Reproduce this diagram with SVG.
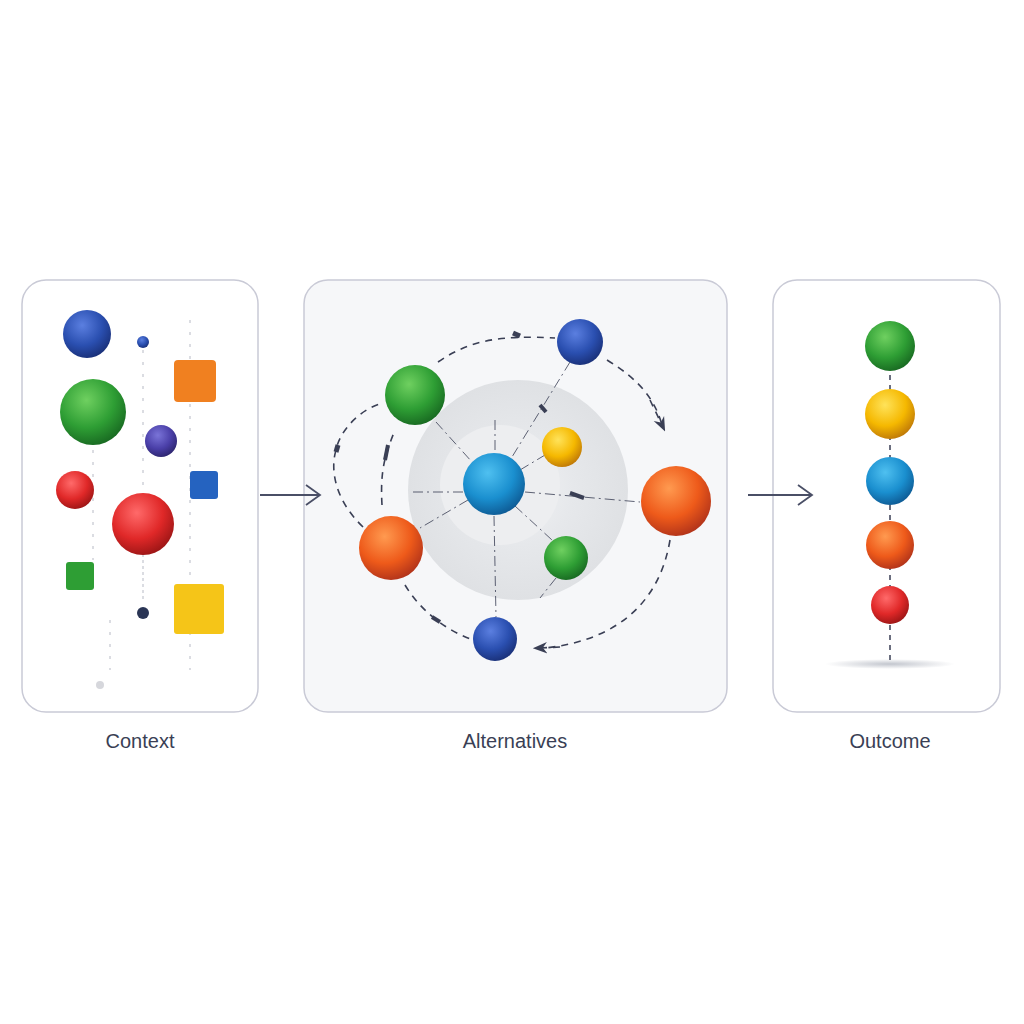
<svg xmlns="http://www.w3.org/2000/svg" width="1024" height="1024" viewBox="0 0 1024 1024">
<style>
.panel{stroke:#c9cad6;stroke-width:1.5}
.lbl{font-family:"Liberation Sans",Arial,sans-serif;font-size:20px;fill:#3a3f55;text-anchor:middle}
.d{fill:none;stroke:#3a3f55;stroke-width:1.6;stroke-dasharray:7 6}
.t{fill:none;stroke:#3a3f55;stroke-width:1;stroke-dasharray:10 4 2 4;opacity:.8}
.tl{fill:none;stroke:#9a9ead;stroke-width:1;stroke-dasharray:3 9;opacity:.7}
.ar{fill:none;stroke:#4a4f66;stroke-width:1.8}
</style>
<defs>
<radialGradient id="gB" cx="40%" cy="32%" r="70%"><stop offset="0" stop-color="#5b7fe0"/><stop offset=".6" stop-color="#2a4fb0"/><stop offset="1" stop-color="#1a317a"/></radialGradient>
<radialGradient id="gC" cx="40%" cy="32%" r="70%"><stop offset="0" stop-color="#4fc0f0"/><stop offset=".6" stop-color="#1a8fcf"/><stop offset="1" stop-color="#0e5c96"/></radialGradient>
<radialGradient id="gG" cx="40%" cy="32%" r="70%"><stop offset="0" stop-color="#6fd060"/><stop offset=".6" stop-color="#2e9e34"/><stop offset="1" stop-color="#196b22"/></radialGradient>
<radialGradient id="gR" cx="40%" cy="32%" r="70%"><stop offset="0" stop-color="#ff6a6a"/><stop offset=".6" stop-color="#e02828"/><stop offset="1" stop-color="#9e1616"/></radialGradient>
<radialGradient id="gO" cx="40%" cy="32%" r="70%"><stop offset="0" stop-color="#ff9a50"/><stop offset=".6" stop-color="#ee5a1a"/><stop offset="1" stop-color="#b3341a"/></radialGradient>
<radialGradient id="gY" cx="40%" cy="32%" r="70%"><stop offset="0" stop-color="#ffe35a"/><stop offset=".6" stop-color="#f5b800"/><stop offset="1" stop-color="#c07a08"/></radialGradient>
<radialGradient id="gP" cx="40%" cy="32%" r="70%"><stop offset="0" stop-color="#7a74d8"/><stop offset=".6" stop-color="#4a3fa8"/><stop offset="1" stop-color="#2e2670"/></radialGradient>
<radialGradient id="disc" cx="50%" cy="50%" r="50%"><stop offset="0" stop-color="#f1f2f4"/><stop offset=".5" stop-color="#e6e8eb"/><stop offset="1" stop-color="#dfe1e4"/></radialGradient>
<radialGradient id="sh" cx="50%" cy="50%" r="50%"><stop offset="0" stop-color="#9aa0ad" stop-opacity=".6"/><stop offset="1" stop-color="#9aa0ad" stop-opacity="0"/></radialGradient>
<marker id="m" viewBox="0 0 10 10" refX="5" refY="5" markerWidth="9" markerHeight="9" orient="auto-start-reverse"><path d="M0,1 L10,5 L0,9 L3,5 Z" fill="#3a3f55"/></marker>
</defs>
<rect width="1024" height="1024" fill="#ffffff"/>

<g id="panel-context">
<rect class="panel" x="22" y="280" width="236" height="432" rx="24" fill="#ffffff"/>
<g class="tl"><path d="M143,350 V600"/><path d="M190,320 V670"/><path d="M93,450 V560"/><path d="M143,560 V600"/><path d="M110,620 V670"/></g>
<circle cx="87" cy="334" r="24" fill="url(#gB)"/>
<circle cx="143" cy="342" r="6" fill="url(#gB)"/>
<rect x="174" y="360" width="42" height="42" rx="4" fill="#f08020"/>
<circle cx="93" cy="412" r="33" fill="url(#gG)"/>
<circle cx="161" cy="441" r="16" fill="url(#gP)"/>
<circle cx="75" cy="490" r="19" fill="url(#gR)"/>
<rect x="190" y="471" width="28" height="28" rx="3" fill="#2563c0"/>
<circle cx="143" cy="524" r="31" fill="url(#gR)"/>
<rect x="66" y="562" width="28" height="28" rx="3" fill="#2e9e34"/>
<circle cx="143" cy="613" r="6" fill="#2a3555"/>
<rect x="174" y="584" width="50" height="50" rx="3" fill="#f5c518"/>
<circle cx="100" cy="685" r="4" fill="#d6d7dc"/>
</g>

<g id="panel-alternatives">
<rect class="panel" x="304" y="280" width="423" height="432" rx="24" fill="#f6f7f9"/>
<circle cx="518" cy="490" r="110" fill="url(#disc)"/>
<circle cx="500" cy="485" r="60" fill="#edeef0"/>
</g>

<g id="panel-outcome">
<rect class="panel" x="773" y="280" width="227" height="432" rx="24" fill="#ffffff"/>
<ellipse cx="890" cy="664" rx="65" ry="5" fill="url(#sh)"/>
<path d="M890,365 V665" stroke="#3a3f55" stroke-width="1.5" stroke-dasharray="5 5"/>
</g>

<g id="connectors">
<path class="ar" d="M260,495 H320 M306,485 L320,495 L306,505"/>
<path class="ar" d="M748,495 H812 M798,485 L812,495 L798,505"/>
<path class="d" d="M438,362 C470,340 500,335 555,338"/>
<path class="d" d="M607,360 C640,380 655,400 662,425"/>
<path class="d" d="M650,400 L662,425" marker-end="url(#m)"/>
<path class="d" d="M670,540 C660,600 620,640 545,648"/>
<path class="d" d="M560,647 L540,648" marker-end="url(#m)"/>
<path class="d" d="M405,585 C420,610 445,630 473,640"/>
<path class="d" d="M363,527 C335,500 330,470 336,450 C340,430 360,410 380,404"/>
<path class="d" d="M382,505 C380,470 385,455 395,430"/>
<g class="t">
<path d="M436,422 L472,462"/><path d="M570,362 L512,457"/><path d="M525,492 L640,502"/>
<path d="M463,492 L410,492"/><path d="M468,500 L420,528"/><path d="M494,516 L496,617"/>
<path d="M515,506 L552,540"/><path d="M520,470 L545,455"/><path d="M556,578 L540,598"/>
<path d="M495,420 V450"/>
</g>
<path d="M540,405 L546,412" stroke="#3a3f55" stroke-width="4"/>
<path d="M570,493 L584,498" stroke="#3a3f55" stroke-width="4"/>
<path d="M388,445 L385,460" stroke="#3a3f55" stroke-width="4"/>
<path d="M338,445 L336,452" stroke="#3a3f55" stroke-width="5"/>
<path d="M513,333 L520,336" stroke="#3a3f55" stroke-width="5"/>
<path d="M432,617 L440,622" stroke="#3a3f55" stroke-width="4"/>
</g>

<g id="nodes-alternatives">
<circle cx="415" cy="395" r="30" fill="url(#gG)"/>
<circle cx="580" cy="342" r="23" fill="url(#gB)"/>
<circle cx="562" cy="447" r="20" fill="url(#gY)"/>
<circle cx="494" cy="484" r="31" fill="url(#gC)"/>
<circle cx="676" cy="501" r="35" fill="url(#gO)"/>
<circle cx="391" cy="548" r="32" fill="url(#gO)"/>
<circle cx="566" cy="558" r="22" fill="url(#gG)"/>
<circle cx="495" cy="639" r="22" fill="url(#gB)"/>
</g>

<g id="nodes-outcome">
<circle cx="890" cy="346" r="25" fill="url(#gG)"/>
<circle cx="890" cy="414" r="25" fill="url(#gY)"/>
<circle cx="890" cy="481" r="24" fill="url(#gC)"/>
<circle cx="890" cy="545" r="24" fill="url(#gO)"/>
<circle cx="890" cy="605" r="19" fill="url(#gR)"/>
</g>

<g id="labels">
<text class="lbl" x="140" y="748">Context</text>
<text class="lbl" x="515" y="748">Alternatives</text>
<text class="lbl" x="890" y="748">Outcome</text>
</g>
</svg>
